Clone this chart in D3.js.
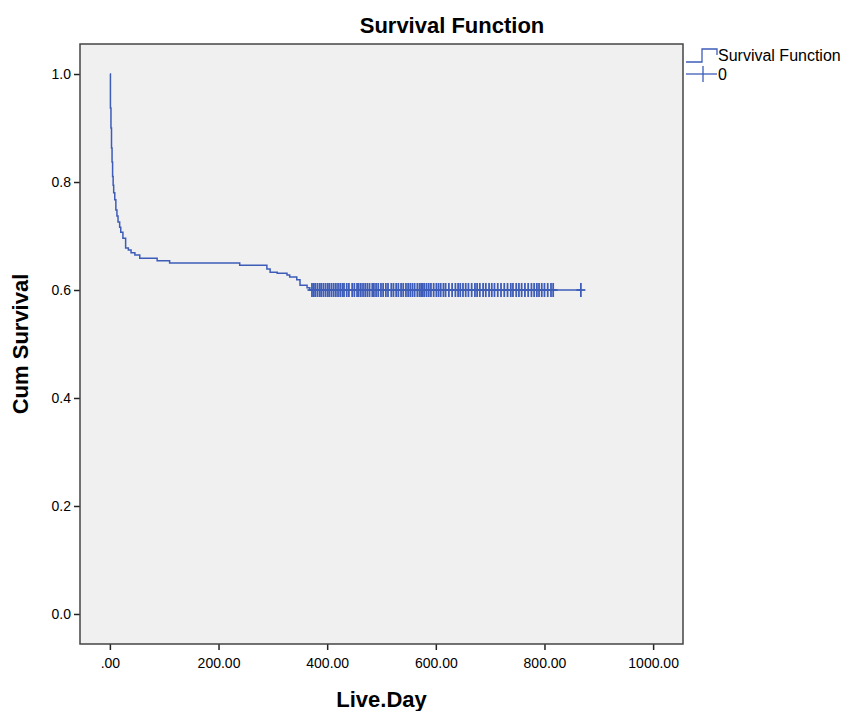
<!DOCTYPE html>
<html>
<head>
<meta charset="utf-8">
<script src="https://cdn.jsdelivr.net/npm/d3@7"></script>
<style>
  body { margin: 0; background: #fff; }
  text { font-family: "Liberation Sans", Arial, sans-serif; fill: #000; }
  .tick-label { font-size: 14px; }
  .axis-title { font-size: 22px; font-weight: bold; }
</style>
</head>
<body>
<div id="chart"></div>
<script>
// Kaplan-Meier steps (day, cumulative survival)
const stepDays = [0, 1, 2, 3, 4, 5, 6, 7, 9, 11, 13, 15, 18, 20, 24, 29, 34, 39, 46, 55, 87, 110,
  239, 289, 295, 308, 326, 331, 344, 350, 363, 368];
const stepSurvival = [1.0, 0.937, 0.90, 0.863, 0.837, 0.81, 0.794, 0.78, 0.767, 0.748, 0.737, 0.726,
  0.716, 0.707, 0.696, 0.678, 0.674, 0.669, 0.665, 0.659, 0.654, 0.650,
  0.646, 0.639, 0.633, 0.631, 0.628, 0.624, 0.619, 0.609, 0.604, 0.600];

// censored cases (all sit on the last plateau)
const censorDays = [372, 375, 378, 382, 386, 389, 393, 397, 401, 404, 408, 412, 416, 420, 424, 428,
  431, 436, 440, 446, 450, 455, 458, 462, 466, 470, 474, 478, 483, 486, 490, 494, 499, 503, 508,
  512, 518, 522, 527, 531, 536, 540, 545, 549, 553, 557, 561, 566, 570, 573, 576, 579, 583, 587,
  591, 596, 601, 605, 609, 614, 618, 624, 630, 636, 641, 645, 650, 655, 660, 666, 672, 676, 681,
  687, 692, 698, 703, 708, 714, 720, 726, 732, 738, 742, 748, 753, 758, 764, 770, 776, 781, 786,
  790, 795, 800, 806, 812, 816, 867];

const xTicks = [0, 200, 400, 600, 800, 1000];
const yTicks = [0, 0.2, 0.4, 0.6, 0.8, 1.0];

class SurvivalPlot {
  constructor(_config) {
    this.config = {
      parentElement: _config.parentElement,
      containerWidth: 841,
      containerHeight: 711,
      margin: {top: 44, right: 158, bottom: 67, left: 80}
    };
    this.initVis();
  }

  initVis() {
    let vis = this;
    vis.width = vis.config.containerWidth - vis.config.margin.left - vis.config.margin.right;
    vis.height = vis.config.containerHeight - vis.config.margin.top - vis.config.margin.bottom;

    vis.xScale = d3.scaleLinear().domain([-55, 1055]).range([0, vis.width]);
    vis.yScale = d3.scaleLinear().domain([-0.0556, 1.0556]).range([vis.height, 0]);

    vis.svg = d3.select(vis.config.parentElement).append('svg')
      .attr('width', vis.config.containerWidth)
      .attr('height', vis.config.containerHeight);

    vis.chart = vis.svg.append('g')
      .attr('transform', `translate(${vis.config.margin.left},${vis.config.margin.top})`);

    vis.chart.append('rect')
      .attr('width', vis.width)
      .attr('height', vis.height)
      .attr('fill', '#f0f0f0');

    vis.renderVis();
  }

  renderVis() {
    let vis = this;
    const blue = '#3d5cb8';

    // axes
    vis.chart.append('g')
      .attr('transform', `translate(0,${vis.height})`)
      .call(d3.axisBottom(vis.xScale).tickValues(xTicks).tickSize(6).tickPadding(8)
        .tickFormat(d => d === 0 ? '.00' : d.toFixed(2)))
      .call(g => g.select('.domain').remove())
      .call(g => g.selectAll('line').attr('stroke', '#222').attr('stroke-width', 1.5))
      .call(g => g.selectAll('text').attr('class', 'tick-label'));

    vis.chart.append('g')
      .call(d3.axisLeft(vis.yScale).tickValues(yTicks).tickSize(6).tickPadding(3)
        .tickFormat(d3.format('.1f')))
      .call(g => g.select('.domain').remove())
      .call(g => g.selectAll('line').attr('stroke', '#222').attr('stroke-width', 1.5))
      .call(g => g.selectAll('text').attr('class', 'tick-label'));

    // frame
    vis.chart.append('rect')
      .attr('width', vis.width)
      .attr('height', vis.height)
      .attr('fill', 'none')
      .attr('stroke', '#444')
      .attr('stroke-width', 1.5);

    // survival curve
    const curveData = stepDays.map((d, i) => [d, stepSurvival[i]]);
    curveData.push([d3.max(censorDays), stepSurvival[stepSurvival.length - 1]]);
    const line = d3.line()
      .x(d => vis.xScale(d[0]))
      .y(d => vis.yScale(d[1]))
      .curve(d3.curveStepAfter);

    vis.chart.append('path')
      .datum(curveData)
      .attr('fill', 'none')
      .attr('stroke', blue)
      .attr('stroke-width', 1.5)
      .attr('d', line);

    // censor marks
    const lastS = stepSurvival[stepSurvival.length - 1];
    const marks = vis.chart.append('g').selectAll('.censor')
      .data(censorDays)
      .join('g')
      .attr('class', 'censor')
      .attr('transform', d => `translate(${vis.xScale(d)},${vis.yScale(lastS)})`)
      .attr('stroke', blue)
      .attr('stroke-width', 1.8);
    marks.append('line').attr('y1', -7).attr('y2', 7);
    marks.append('line').attr('x1', -4.5).attr('x2', 4.5);

    // titles
    vis.svg.append('text')
      .attr('class', 'axis-title')
      .attr('x', 452).attr('y', 33)
      .attr('text-anchor', 'middle')
      .text('Survival Function');

    vis.svg.append('text')
      .attr('class', 'axis-title')
      .attr('x', vis.config.margin.left + vis.width / 2).attr('y', 707)
      .attr('text-anchor', 'middle')
      .text('Live.Day');

    vis.svg.append('text')
      .attr('class', 'axis-title')
      .attr('transform', `translate(28,${vis.config.margin.top + vis.height / 2}) rotate(-90)`)
      .attr('text-anchor', 'middle')
      .text('Cum Survival');

    // legend
    const lg = vis.svg.append('g').attr('transform', 'translate(686,0)');
    lg.append('path')
      .attr('d', 'M0,62 H16 V49 H31 V55')
      .attr('fill', 'none')
      .attr('stroke', blue)
      .attr('stroke-width', 1.3);
    lg.append('text').attr('x', 32).attr('y', 61).attr('font-size', 16).text('Survival Function');
    lg.append('line').attr('x1', 0).attr('x2', 31).attr('y1', 74).attr('y2', 74)
      .attr('stroke', blue).attr('stroke-width', 1.3);
    lg.append('line').attr('x1', 17).attr('x2', 17).attr('y1', 66).attr('y2', 82)
      .attr('stroke', blue).attr('stroke-width', 1.3);
    lg.append('text').attr('x', 32).attr('y', 80).attr('font-size', 16).text('0');
  }
}

new SurvivalPlot({parentElement: '#chart'});
</script>
</body>
</html>
